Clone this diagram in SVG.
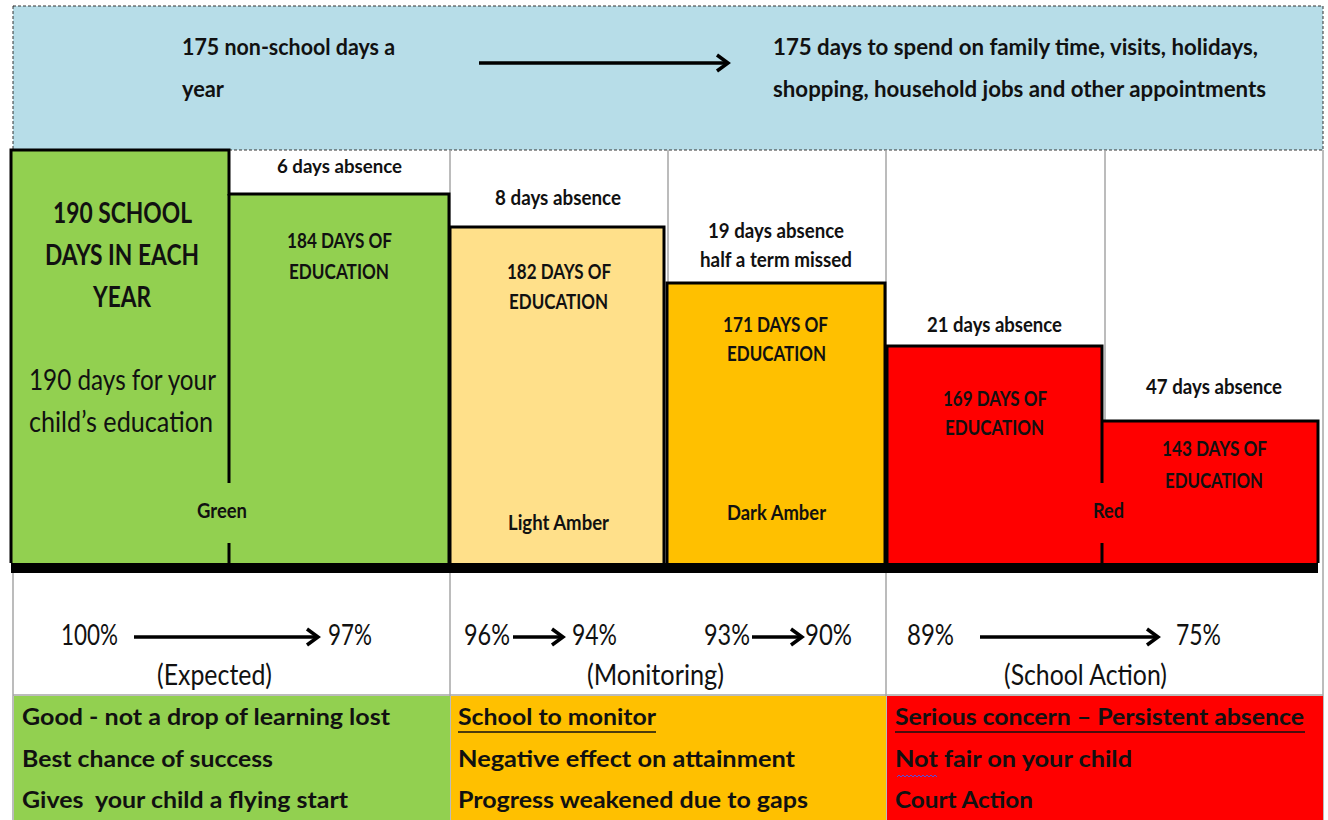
<svg xmlns="http://www.w3.org/2000/svg" width="1328" height="820" viewBox="0 0 1328 820">
<style>
.t{font-family:Lato,"Liberation Sans",sans-serif;fill:#111;}
.b{font-weight:700;}
.grid{stroke:#a6a6a6;stroke-width:1.5;fill:none;}
.out{stroke:#000;stroke-width:3;fill:none;stroke-linejoin:miter;}
.arr{stroke:#000;stroke-width:3.5;fill:none;}
</style>
<defs>
<marker id="ah" markerUnits="userSpaceOnUse" markerWidth="18" markerHeight="22" viewBox="0 0 18 22" refX="15" refY="11" orient="auto">
<path d="M4,3 L15,11 L4,19" fill="none" stroke="#000" stroke-width="3.5"/>
</marker>
</defs>
<rect width="1328" height="820" fill="#fff"/>

<g id="top-band">
<rect x="13" y="6" width="1310" height="144" fill="#b7dde8" stroke="#333" stroke-width="1" stroke-dasharray="3,2"/>
<text class="t b" x="182" y="55" font-size="23" textLength="213" lengthAdjust="spacingAndGlyphs">175 non-school days a</text>
<text class="t b" x="182" y="97" font-size="23" textLength="42" lengthAdjust="spacingAndGlyphs">year</text>
<text class="t b" x="773" y="55" font-size="23" textLength="485" lengthAdjust="spacingAndGlyphs">175 days to spend on family time, visits, holidays,</text>
<text class="t b" x="773" y="97" font-size="23" textLength="493" lengthAdjust="spacingAndGlyphs">shopping, household jobs and other appointments</text>
</g>

<g id="grid-lines">
<line class="grid" x1="450" y1="150" x2="450" y2="820"/>
<line class="grid" x1="668" y1="150" x2="668" y2="283"/>
<line class="grid" x1="886" y1="150" x2="886" y2="820"/>
<line class="grid" x1="1105" y1="150" x2="1105" y2="421"/>
<line class="grid" x1="1323" y1="150" x2="1323" y2="820"/>
<line class="grid" x1="13" y1="573" x2="13" y2="820"/>
<line class="grid" x1="13" y1="695" x2="1323" y2="695"/>
</g>

<g id="green-block">
<path d="M11,150 H229 V194 H449 V563 H11 Z" fill="#92d050"/>
<path class="out" d="M11,563 V150 H229 V194 H449 V563"/>
<path class="out" d="M229,194 V483 M229,543 V563"/>
<text class="t b" x="277" y="173" font-size="19" textLength="125" lengthAdjust="spacingAndGlyphs">6 days absence</text>
<text class="t b" x="53" y="223" font-size="28" textLength="139" lengthAdjust="spacingAndGlyphs">190 SCHOOL</text>
<text class="t b" x="45" y="265" font-size="28" textLength="154" lengthAdjust="spacingAndGlyphs">DAYS IN EACH</text>
<text class="t b" x="93" y="307" font-size="28" textLength="58" lengthAdjust="spacingAndGlyphs">YEAR</text>
<text class="t" x="29" y="390" font-size="28" textLength="187" lengthAdjust="spacingAndGlyphs">190 days for your</text>
<text class="t" x="29" y="432" font-size="28" textLength="184" lengthAdjust="spacingAndGlyphs">child’s education</text>
<text class="t b" x="287" y="248" font-size="21" textLength="105" lengthAdjust="spacingAndGlyphs">184 DAYS OF</text>
<text class="t b" x="289" y="279" font-size="21" textLength="100" lengthAdjust="spacingAndGlyphs">EDUCATION</text>
<text class="t b" x="197" y="518" font-size="20" textLength="50" lengthAdjust="spacingAndGlyphs">Green</text>
</g>

<g id="light-amber-block">
<rect x="450" y="227" width="214" height="336" fill="#ffe08a"/>
<path class="out" d="M450,563 V227 H664 V563"/>
<text class="t b" x="495" y="205" font-size="20" textLength="126" lengthAdjust="spacingAndGlyphs">8 days absence</text>
<text class="t b" x="507" y="279" font-size="21" textLength="104" lengthAdjust="spacingAndGlyphs">182 DAYS OF</text>
<text class="t b" x="509" y="309" font-size="21" textLength="99" lengthAdjust="spacingAndGlyphs">EDUCATION</text>
<text class="t b" x="508" y="530" font-size="20" textLength="101" lengthAdjust="spacingAndGlyphs">Light Amber</text>
</g>

<g id="dark-amber-block">
<rect x="667" y="283" width="218" height="280" fill="#ffc000"/>
<path class="out" d="M667,563 V283 H885 V563"/>
<text class="t b" x="708" y="238" font-size="20" textLength="136" lengthAdjust="spacingAndGlyphs">19 days absence</text>
<text class="t b" x="700" y="267" font-size="20" textLength="152" lengthAdjust="spacingAndGlyphs">half a term missed</text>
<text class="t b" x="723" y="332" font-size="21" textLength="105" lengthAdjust="spacingAndGlyphs">171 DAYS OF</text>
<text class="t b" x="727" y="361" font-size="21" textLength="99" lengthAdjust="spacingAndGlyphs">EDUCATION</text>
<text class="t b" x="727" y="520" font-size="20" textLength="99" lengthAdjust="spacingAndGlyphs">Dark Amber</text>
</g>

<g id="red-block">
<rect x="887" y="346" width="215" height="217" fill="#ff0000"/>
<rect x="1102" y="421" width="216" height="142" fill="#ff0000"/>
<path class="out" d="M887,563 V346 H1102 V483 M1102,543 V563 M1102,421 H1318 V563"/>
<text class="t b" x="927" y="332" font-size="20" textLength="135" lengthAdjust="spacingAndGlyphs">21 days absence</text>
<text class="t b" x="943" y="406" font-size="21" textLength="104" lengthAdjust="spacingAndGlyphs">169 DAYS OF</text>
<text class="t b" x="945" y="435" font-size="21" textLength="99" lengthAdjust="spacingAndGlyphs">EDUCATION</text>
<text class="t b" x="1146" y="394" font-size="20" textLength="136" lengthAdjust="spacingAndGlyphs">47 days absence</text>
<text class="t b" x="1162" y="456" font-size="21" textLength="105" lengthAdjust="spacingAndGlyphs">143 DAYS OF</text>
<text class="t b" x="1165" y="488" font-size="21" textLength="98" lengthAdjust="spacingAndGlyphs">EDUCATION</text>
<text class="t b" x="1093" y="518" font-size="20" textLength="31" lengthAdjust="spacingAndGlyphs">Red</text>
</g>

<rect id="base-bar" x="11" y="563" width="1307" height="10" fill="#000"/>

<g id="percent-row">
<text class="t" x="61" y="645" font-size="28" textLength="57" lengthAdjust="spacingAndGlyphs">100%</text>
<text class="t" x="328" y="645" font-size="28" textLength="44" lengthAdjust="spacingAndGlyphs">97%</text>
<text class="t" x="157" y="685" font-size="28" textLength="115" lengthAdjust="spacingAndGlyphs">(Expected)</text>
<text class="t" x="464" y="645" font-size="28" textLength="46" lengthAdjust="spacingAndGlyphs">96%</text>
<text class="t" x="572" y="645" font-size="28" textLength="45" lengthAdjust="spacingAndGlyphs">94%</text>
<text class="t" x="704" y="645" font-size="28" textLength="46" lengthAdjust="spacingAndGlyphs">93%</text>
<text class="t" x="805" y="645" font-size="28" textLength="47" lengthAdjust="spacingAndGlyphs">90%</text>
<text class="t" x="587" y="685" font-size="28" textLength="137" lengthAdjust="spacingAndGlyphs">(Monitoring)</text>
<text class="t" x="907" y="645" font-size="28" textLength="47" lengthAdjust="spacingAndGlyphs">89%</text>
<text class="t" x="1176" y="645" font-size="28" textLength="45" lengthAdjust="spacingAndGlyphs">75%</text>
<text class="t" x="1004" y="685" font-size="28" textLength="163" lengthAdjust="spacingAndGlyphs">(School Action)</text>
</g>

<g id="connectors">
<line class="arr" x1="479" y1="63" x2="728" y2="63" marker-end="url(#ah)"/>
<line class="arr" x1="134" y1="637" x2="318" y2="637" marker-end="url(#ah)"/>
<line class="arr" x1="513" y1="637" x2="563" y2="637" marker-end="url(#ah)"/>
<line class="arr" x1="752" y1="637" x2="802" y2="637" marker-end="url(#ah)"/>
<line class="arr" x1="980" y1="637" x2="1158" y2="637" marker-end="url(#ah)"/>
</g>

<g id="bottom-green">
<rect x="14" y="696" width="436" height="124" fill="#92d050"/>
<text class="t b" x="22" y="725" font-size="23.5" textLength="368" lengthAdjust="spacingAndGlyphs">Good - not a drop of learning lost</text>
<text class="t b" x="22" y="767" font-size="23.5" textLength="251" lengthAdjust="spacingAndGlyphs">Best chance of success</text>
<text class="t b" x="22" y="808" font-size="23.5" textLength="326" lengthAdjust="spacingAndGlyphs" xml:space="preserve">Gives  your child a flying start</text>
</g>

<g id="bottom-amber">
<rect x="451" y="696" width="435" height="124" fill="#ffc000"/>
<text class="t b" x="458" y="725" font-size="23.5" textLength="198" lengthAdjust="spacingAndGlyphs">School to monitor</text>
<line x1="458" y1="732" x2="656" y2="732" stroke="#111" stroke-width="1.5"/>
<text class="t b" x="458" y="767" font-size="23.5" textLength="337" lengthAdjust="spacingAndGlyphs">Negative effect on attainment</text>
<text class="t b" x="458" y="808" font-size="23.5" textLength="350" lengthAdjust="spacingAndGlyphs">Progress weakened due to gaps</text>
</g>

<g id="bottom-red">
<rect x="887" y="696" width="436" height="124" fill="#ff0000"/>
<text class="t b" x="895" y="725" font-size="23.5" textLength="409" lengthAdjust="spacingAndGlyphs">Serious concern – Persistent absence</text>
<line x1="895" y1="732" x2="1305" y2="732" stroke="#111" stroke-width="1.5"/>
<text class="t b" x="895" y="767" font-size="23.5" textLength="237" lengthAdjust="spacingAndGlyphs">Not fair on your child</text>
<path d="M897,777 l2,-2 l2,2 l2,-2 l2,2 l2,-2 l2,2 l2,-2 l2,2 l2,-2 l2,2 l2,-2 l2,2 l2,-2 l2,2 l2,-2 l2,2 l2,-2 l2,2 l2,-2 l2,2" fill="none" stroke="#5050e0" stroke-width="1"/>
<text class="t b" x="895" y="808" font-size="23.5" textLength="138" lengthAdjust="spacingAndGlyphs">Court Action</text>
</g>
</svg>
